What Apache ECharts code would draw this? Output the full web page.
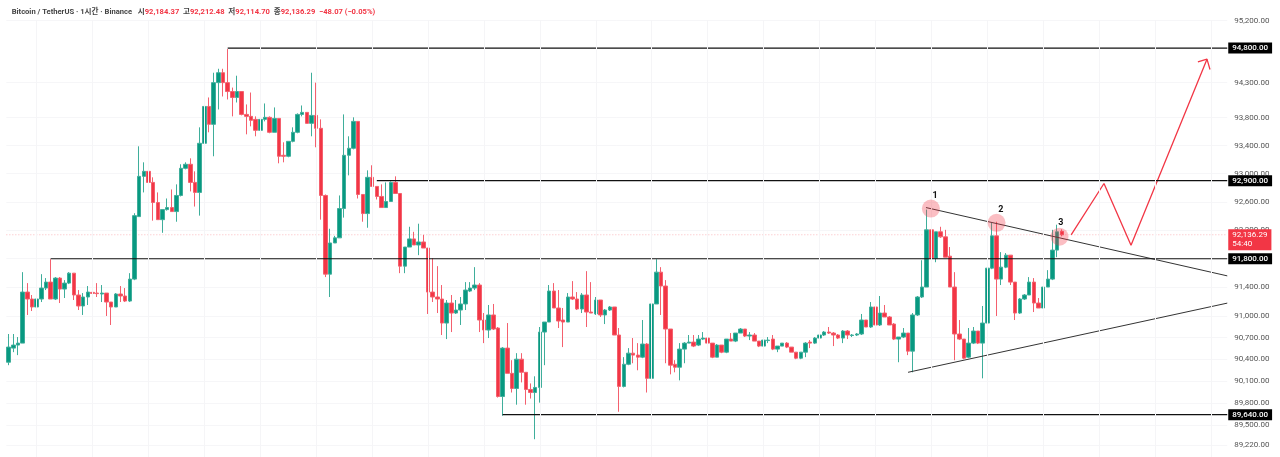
<!DOCTYPE html>
<html><head><meta charset="utf-8">
<style>html,body{margin:0;padding:0;background:#fff}#c{width:1280px;height:457px}</style>
<script src="https://cdn.jsdelivr.net/npm/echarts@6/dist/echarts.min.js"></script>
</head><body><div id="c"></div>
<script>
const slotCount = 262;
const categories = [];
for (let i = 0; i < slotCount; i++) categories.push(String(i));

// [open, close, low, high]
const candles = [
[90361,90570,90320,90751],[90556,90598,90500,90751],[90598,90625,90459,90709],[90625,91334,90625,91612],
[91334,91237,91015,91459],[91237,91126,91070,91293],[91126,91237,91084,91293],[91237,91390,91195,91584],
[91390,91473,91362,91529],[91473,91237,91237,91793],[91237,91529,91223,91543],[91529,91376,91181,91543],
[91376,91459,91251,91501],[91459,91598,91445,91612],[91598,91293,91223,91598],[91293,91140,91084,91362],
[91140,91265,91015,91320],[91265,91334,91154,91418],[91330,91315,91251,91404],[91320,91312,91265,91459],
[91307,91320,91195,91432],[91320,91195,91001,91320],[91195,91126,90876,91195],[91126,91307,91126,91320],
[91307,91279,91195,91418],[91279,91209,91195,91390],[91209,91515,91195,91598],[91515,92406,91500,92440],
[92392,92962,92392,93389],[92962,93033,92734,93161],[93033,92876,92876,93204],[92876,92591,92335,92948],
[92591,92349,92349,92734],[92349,92491,92164,92491],[92491,92520,92477,92648],[92520,92463,92463,92776],
[92463,92691,92320,92848],[92691,93076,92677,93133],[93076,93133,93061,93161],[93133,92876,92748,93218],
[92876,92734,92534,93033],[92734,93432,92406,93660],[93432,93959,93176,94002],[93959,93703,93589,94088],
[93703,94301,93247,94444],[94301,94444,93916,94501],[94444,94301,94102,94501],[94301,94173,94059,94786],
[94173,94088,93817,94230],[94088,94173,94016,94401],[94173,93845,93831,94173],[93845,93817,93560,93988],
[93817,93760,93674,94159],[93774,93617,93532,93817],[93617,93774,93603,93945],[93774,93803,93745,94002],
[93803,93589,93575,93817],[93589,93788,93589,93945],[93788,93247,93147,93788],[93261,93247,93161,93446],
[93247,93460,93233,93460],[93460,93589,93446,93660],[93589,93845,93575,93860],[93845,93874,93817,93973],
[93874,93717,93717,93874],[93717,93831,93532,94444],[93831,93646,93375,94301],[93646,92691,92349,93774],
[92691,91584,91543,92705],[91584,92021,91265,92221],[92021,92093,92021,92121],[92093,92506,92093,92691],
[92506,93261,92378,93845],[93261,93361,92976,93532],[93361,93745,93346,93803],[93745,92705,92648,93745],
[92705,92435,92320,92705],[92435,92948,92235,93047],[92948,92819,92819,93119],[92819,92677,92634,92819],
[92677,92520,92520,92848],[92520,92606,92520,92876],[92606,92876,92606,92890],[92876,92719,92719,92962],
[92719,91696,91598,92719],[91696,91964,91598,91964],[91964,92078,91964,92249],[92078,91993,91993,92178],
[91993,92035,91850,92292],[92035,91950,91950,92135],[91950,91334,91029,91950],[91334,91265,91195,91807],
[91265,91237,91042,91696],[91237,90903,90737,91432],[90903,91181,90681,91223],[91181,91042,90778,91293],
[91042,91084,91029,91223],[91084,91168,90876,91265],[91168,91362,91084,91473],[91348,91390,91334,91473],
[91390,91432,91362,91682],[91432,90945,90778,91459],[90945,90806,90625,91042],[90806,91015,90695,91154],
[91015,90820,90806,91168],[90834,89889,89875,90848],[89889,90556,89625,90570],[90556,90208,90208,90903],
[90208,90000,89944,90389],[90000,90403,89777,90486],[90403,90222,90083,90486],[90222,89986,89777,90222],
[89986,89944,89861,90069],[89944,90014,89305,90167],[90014,90778,89805,90848],[90778,90917,90320,90917],
[90917,91348,90917,91432],[91348,91112,91112,91459],[91112,90931,90834,91362],[90945,90917,90570,91112],
[90917,91265,90917,91320],[91265,91237,91223,91487],[91237,91098,91084,91334],[91098,91293,91042,91320],
[91293,91056,90848,91626],[91056,91042,91042,91473],[91029,91223,91015,91265],[91223,91015,90987,91223],
[91015,91084,90889,91098],[91084,91126,91070,91140],[91126,90737,90737,91126],[90737,90028,89680,90834],
[90028,90333,90014,90431],[90333,90486,90320,90556],[90486,90459,90347,90695],[90459,90431,90250,90625],
[90431,90612,90417,90945],[90612,90139,89944,90625],[90139,91168,89847,92093],[91168,91612,91168,91793],
[91612,91418,91015,91682],[91418,90820,90347,91501],[90820,90320,90194,90820],[90333,90292,90222,90389],
[90292,90542,90111,90625],[90542,90625,90347,90639],[90625,90639,90625,90737],[90639,90584,90570,90737],
[90598,90681,90584,90737],[90681,90695,90667,90778],[90695,90625,90612,90695],[90625,90431,90417,90625],
[90431,90598,90431,90612],[90598,90500,90486,90598],[90500,90681,90486,90681],[90681,90653,90653,90764],
[90653,90764,90639,90764],[90764,90820,90764,90834],[90820,90723,90709,90820],[90723,90737,90667,90778],
[90737,90653,90653,90764],[90653,90584,90570,90653],[90584,90667,90584,90667],[90660,90667,90625,90709],
[90681,90542,90528,90737],[90542,90584,90500,90584],[90584,90625,90584,90625],[90625,90570,90556,90639],
[90570,90500,90500,90570],[90500,90417,90403,90500],[90417,90500,90403,90500],[90500,90625,90431,90639],
[90639,90625,90556,90667],[90625,90695,90612,90709],[90695,90737,90681,90751],[90737,90778,90723,90792],
[90778,90764,90751,90848],[90764,90737,90584,90778],[90737,90695,90681,90751],[90695,90792,90625,90806],
[90792,90737,90681,90806],[90730,90737,90709,90751],[90737,90751,90723,90764],[90751,90945,90737,91029],
[90945,90848,90848,90945],[90848,91126,90834,91195],[91126,90876,90709,91140],[90876,91042,90862,91279],
[91042,90987,90987,91154],[90987,90876,90876,91001],[90889,90681,90667,90903],[90681,90709,90361,90709],
[90709,90764,90695,90834],[90764,90514,90459,90764],[90514,91015,90222,91042],[91015,91265,91001,91279],
[91265,91404,91251,91779],[91404,92206,91404,92491],[92206,91807,91807,92520],[91807,92178,91751,92178],
[92178,92107,92093,92249],[92107,91822,91822,92206],[91836,91404,91404,91964],[91404,90751,90389,91612],
[90751,90681,90667,90945],[90681,90417,90403,90681],[90431,90625,90417,90834],[90625,90792,90612,90848],
[90792,90625,90612,90792],[90625,90903,90139,91140],[90903,91668,90889,91682],[91668,92121,91654,92306],
[92121,91515,91001,92320],[91515,91682,91432,91893],[91682,91850,91668,91879],[91850,91473,91432,91850],
[91473,91042,90945,91473],[91042,91237,91029,91251],[91237,91293,91223,91307],[91293,91473,91293,91543],
[91473,91181,91056,91529],[91181,91112,91112,91251],[91112,91404,91112,91404],[91404,91515,91404,91640],
[91515,91921,91501,92206],[91921,92178,91822,92278],[92184.37,92136.29,92114.70,92212.48]
];

const tickLabels = [95200,94300,93800,93400,93000,92600,92200,91800,91400,91000,90700,90400,90100,89800,89500,89220];
const levels = [[47,94800],[79,92900],[9,91800],[106,89640]];
const lastPrice = 92136.29;
const countdown = '54:40';
const gridSlots = [6,18,30,42,54,66,78,90,102,114,126,138,150,162,174,186,198,210,222,234,246,258];
const fallLine = [[196.85,92520],[261.5,91560]];
const riseLine = [[193,90222],[261.5,91180]];
const forecast = [[228,92135],[235.05,92860],[240.85,91990],[257.15,94640]];
const arrowHead = [[255.2,94600],[257.15,94640],[257.8,94490]];
const peaks = [[197.9,92505],[212,92305],[225.5,92110]];
const peakNames = ['1','2','3'];
const peakNameAnchors = [[198.8,92690],[212.9,92490],[225.8,92300]];

const GREEN = '#089981', RED = '#f23645', LAST = slotCount - 0.5;
const fmt = v => Number(v).toLocaleString('en-US', {minimumFractionDigits:2, maximumFractionDigits:2});
const FONT = 'Roboto, "Liberation Sans", "Noto Sans CJK KR", sans-serif';

const line = (data, color, width, extra) => Object.assign({
  type:'line', xAxisIndex:1, yAxisIndex:0, data, symbol:'none', silent:true, animation:false, clip:false,
  lineStyle:{color, width}, z:4
}, extra || {});

const series = [
  {type:'candlestick', xAxisIndex:0, yAxisIndex:0, data:candles, barWidth:4, z:3, animation:false, silent:true,
   itemStyle:{color:GREEN, color0:RED, borderColor:'#3fae9b', borderColor0:'#f4606e', borderWidth:1}},
  {type:'scatter', xAxisIndex:1, yAxisIndex:0, data:[], silent:true, z:1,
   markLine:{silent:true, symbol:'none', animation:false, label:{show:false},
     lineStyle:{color:'#f5f5f7', width:1, type:'solid'}, data:gridSlots.map(x=>({xAxis:x}))}},
  line([[-0.5,lastPrice],[LAST,lastPrice]], 'rgba(242,54,69,0.35)', 1, {lineStyle:{color:'rgba(242,54,69,0.35)',width:1,type:[1,2]}, z:2}),
  line(fallLine, '#333', 1),
  line(riseLine, '#333', 1),
  line(forecast, RED, 1.3),
  line(arrowHead, RED, 1.3)
];
levels.forEach(l => series.push(line([[l[0],l[1]],[LAST,l[1]]], '#111', 1.2)));
series.push({type:'scatter', xAxisIndex:1, yAxisIndex:0, data:peaks, symbolSize:18, silent:true, animation:false, z:5,
  itemStyle:{color:'rgba(242,54,69,0.32)', opacity:1}});
series.push({type:'scatter', xAxisIndex:1, yAxisIndex:0, symbolSize:0, silent:true, animation:false, z:6,
  itemStyle:{opacity:1},
  data:peakNameAnchors.map((p,i)=>({value:p, name:peakNames[i]})),
  label:{show:true, position:'inside', formatter:'{b}', color:'#111', fontSize:9, fontWeight:'bold', fontFamily:FONT}});
series.push({type:'scatter', xAxisIndex:1, yAxisIndex:0, symbolSize:0, silent:true, animation:false, clip:false, z:8,
  itemStyle:{opacity:1},
  data:levels.map(l=>[LAST,l[1]]),
  label:{show:true, position:'right', distance:1, formatter:p=>fmt(p.value[1]), color:'#fff', backgroundColor:'#000',
    padding:[2,4,1,4], fontSize:8, fontWeight:500, lineHeight:8, fontFamily:FONT}});
series.push({type:'scatter', xAxisIndex:1, yAxisIndex:0, symbolSize:0, silent:true, animation:false, clip:false, z:9,
  itemStyle:{opacity:1},
  data:[[LAST,lastPrice]],
  label:{show:true, position:'right', distance:1, offset:[0,5], formatter:p=>fmt(p.value[1])+'\n'+countdown, color:'#fff',
    backgroundColor:RED, padding:[2,4,1,4], fontSize:8, lineHeight:9, align:'left', fontFamily:FONT}});

const chart = echarts.init(document.getElementById('c'), null, {renderer:'canvas'});
chart.setOption({
  animation:false,
  backgroundColor:'#fff',
  title:{left:11.7, top:8.5, padding:0,
    text:'{g|Bitcoin / TetherUS · 1시간 · Binance}   {g|시}{r|92,184.37}  {g|고}{r|92,212.48}  {g|저}{r|92,114.70}  {g|종}{r|92,136.29}  {r|−48.07 (−0.05%)}',
    textStyle:{fontSize:7.6, fontFamily:FONT, rich:{
      g:{color:'#444', fontSize:7.6, fontFamily:FONT},
      r:{color:RED, fontSize:7.6, fontFamily:FONT}}}},
  grid:{left:6.33, top:20.5, width:1220.92, height:436.5, containLabel:false},
  xAxis:[
    {type:'category', data:categories, boundaryGap:true, axisLine:{show:false}, axisTick:{show:false}, axisLabel:{show:false}, splitLine:{show:false}},
    {type:'value', min:-0.5, max:LAST, show:false}
  ],
  yAxis:[{type:'log', logBase:10, position:'right', min:89063, max:95200,
    axisLine:{show:false},
    axisTick:{show:false, customValues:tickLabels},
    splitLine:{show:true, lineStyle:{color:'#f6f6f8', width:1}},
    minorSplitLine:{show:false},
    axisLabel:{show:true, customValues:tickLabels, formatter:v=>fmt(v), color:'#555', fontSize:8, margin:7, fontFamily:FONT}}],
  series
});
</script></body></html>
